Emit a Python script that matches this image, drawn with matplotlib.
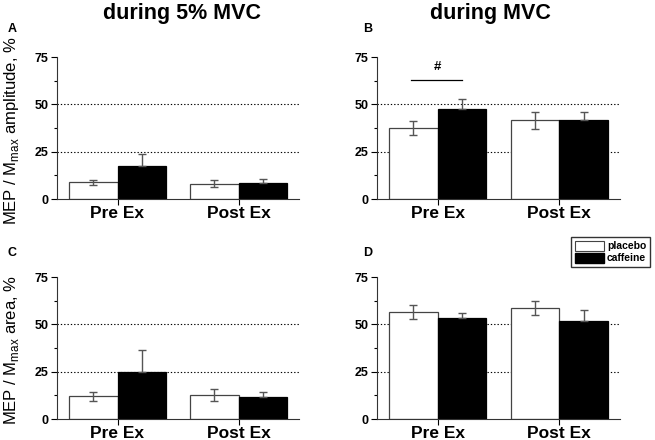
import matplotlib
matplotlib.use("Agg")
import matplotlib.pyplot as plt
from matplotlib.patches import Patch
import numpy as np

plt.rcParams['font.family'] = ['Liberation Sans', 'DejaVu Sans']

groups = ["Pre Ex", "Post Ex"]
series = ["placebo", "caffeine"]

# panel A: amplitude during 5% MVC
A_placebo = [8.8, 8.1]
A_placebo_err = [1.4, 1.8]
A_caffeine = [17.6, 8.6]
A_caffeine_err = [6.3, 2.0]
# panel B: amplitude during MVC
B_placebo = [37.3, 41.5]
B_placebo_err = [3.7, 4.4]
B_caffeine = [47.7, 41.5]
B_caffeine_err = [5.1, 4.6]
# panel C: area during 5% MVC
C_placebo = [12.0, 12.7]
C_placebo_err = [2.4, 3.2]
C_caffeine = [24.8, 11.6]
C_caffeine_err = [11.5, 2.7]
# panel D: area during MVC
D_placebo = [56.7, 58.5]
D_placebo_err = [3.7, 3.7]
D_caffeine = [53.2, 51.9]
D_caffeine_err = [2.6, 5.6]

col_titles = ["during 5% MVC", "during MVC"]
row_labels = [r"MEP / M$_{\mathregular{max}}$ amplitude, %", r"MEP / M$_{\mathregular{max}}$ area, %"]
panel_letters = ["A", "B", "C", "D"]
yticks = [0, 25, 50, 75]

fig = plt.figure(figsize=(6.55, 4.40), dpi=100)
W, H = 655, 440

def add_ax(left, top, right, bottom):
    return fig.add_axes([left / W, 1 - bottom / H, (right - left) / W, (bottom - top) / H])

axA = add_ax(57, 57, 299, 199)
axB = add_ax(377, 57, 620, 199)
axC = add_ax(57, 277, 299, 419)
axD = add_ax(377, 277, 620, 419)

panels = [
    (axA, A_placebo, A_placebo_err, A_caffeine, A_caffeine_err),
    (axB, B_placebo, B_placebo_err, B_caffeine, B_caffeine_err),
    (axC, C_placebo, C_placebo_err, C_caffeine, C_caffeine_err),
    (axD, D_placebo, D_placebo_err, D_caffeine, D_caffeine_err),
]

x = np.arange(len(groups))
bw = 0.4
errcol = "#555555"
for ax, pv, pe, cv, ce in panels:
    for yv in (25, 50):
        ax.axhline(yv, color="black", linestyle=(0, (1.2, 1.8)), linewidth=0.8, zorder=1)
    ax.bar(x - bw / 2, pv, bw, color="white", edgecolor="#444444", linewidth=0.9, zorder=2)
    ax.bar(x + bw / 2, cv, bw, color="black", edgecolor="black", linewidth=0.9, zorder=2)
    ax.errorbar(x - bw / 2, pv, yerr=pe, fmt="none", ecolor=errcol, elinewidth=1.0,
                capsize=3, capthick=1.0, zorder=3)
    ax.errorbar(x + bw / 2, cv, yerr=[np.zeros(len(ce)), ce], fmt="none", ecolor=errcol,
                elinewidth=1.0, capsize=3, capthick=1.0, zorder=3)
    ax.set_xlim(-0.5, 1.5)
    ax.set_ylim(0, 75)
    ax.set_yticks(yticks)
    ax.set_yticks([12.5, 37.5, 62.5], minor=True)
    ax.set_xticks(x)
    ax.set_xticklabels(groups, fontsize=12.5, fontweight="bold")
    ax.tick_params(axis="y", labelsize=9, length=4, width=0.8, pad=2)
    ax.tick_params(axis="y", which="minor", length=2, width=0.8)
    ax.tick_params(axis="x", length=4, width=0.8, pad=1)
    for lab in ax.get_yticklabels():
        lab.set_fontweight("bold")
    ax.spines["top"].set_visible(False)
    ax.spines["right"].set_visible(False)
    ax.spines["left"].set_color("#333333")
    ax.spines["bottom"].set_color("#333333")
    ax.spines["left"].set_linewidth(0.8)
    ax.spines["bottom"].set_linewidth(0.8)

# significance marker in B
axB.plot([-0.22, 0.2], [63, 63], color="black", linewidth=0.9)
axB.text(0.0, 69.5, "#", ha="center", va="center", fontsize=9.5, fontweight="bold")

# titles
fig.text(182 / W, 1 - 14 / H, col_titles[0], ha="center", va="center", fontsize=15.5, fontweight="bold")
fig.text(490 / W, 1 - 14 / H, col_titles[1], ha="center", va="center", fontsize=15.5, fontweight="bold")

# panel letters
for (px, py), letter in zip([(12, 29), (368, 29), (12, 253), (368, 253)], panel_letters):
    fig.text(px / W, 1 - py / H, letter, ha="center", va="center", fontsize=9, fontweight="bold")

# row labels
fig.text(12 / W, 1 - 131 / H, row_labels[0], rotation=90, ha="center", va="center", fontsize=12)
fig.text(12 / W, 1 - 350 / H, row_labels[1], rotation=90, ha="center", va="center", fontsize=12)

# legend
handles = [Patch(facecolor="white", edgecolor="#444444", linewidth=0.8, label=series[0]),
           Patch(facecolor="black", edgecolor="black", label=series[1])]
fig.legend(handles=handles, loc="upper right", bbox_to_anchor=(650 / W, 1 - 237 / H),
           frameon=True, fancybox=False, edgecolor="#333333", framealpha=1,
           prop={"weight": "bold", "size": 7.5}, handlelength=2.8, handleheight=1.1,
           handletextpad=0.3, borderpad=0.35, labelspacing=0.15, borderaxespad=0)

fig.savefig("out.png", dpi=100)
